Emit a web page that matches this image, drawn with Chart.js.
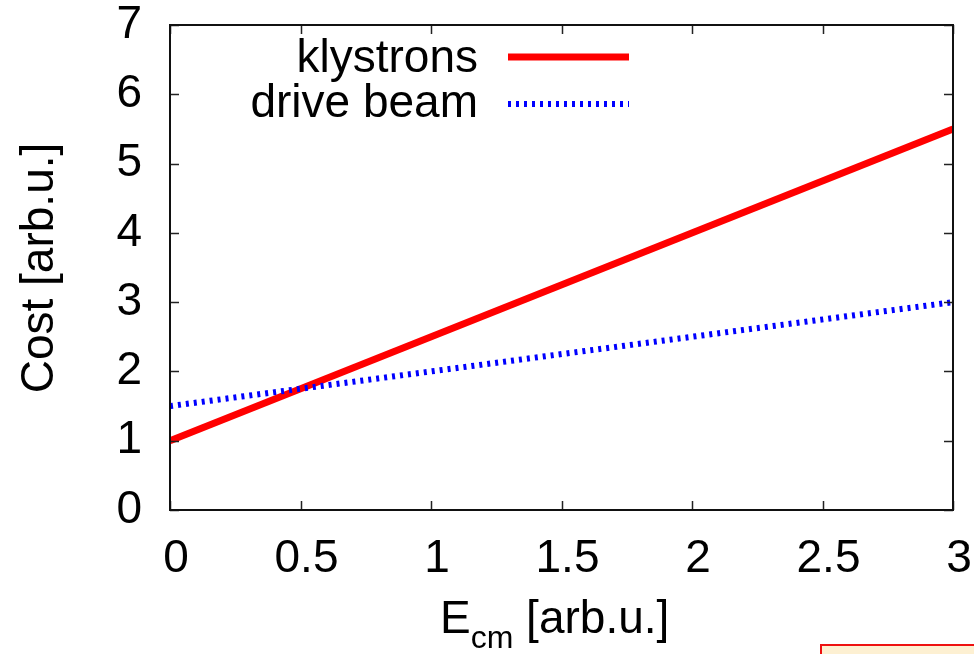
<!DOCTYPE html>
<html>
<head>
<meta charset="utf-8">
<script src="https://cdn.jsdelivr.net/npm/chart.js@4/dist/chart.umd.min.js"></script>
<style>
html,body{margin:0;padding:0;background:#fff;}
#wrap{width:974px;height:654px;position:relative;}
</style>
</head>
<body>
<div id="wrap"><canvas id="c" width="974" height="654"></canvas></div>
<script>
// ---- data ----
const seriesNames = ["klystrons", "drive beam"];
const ecm = [0, 3];
const klystronCost = [1.0, 5.5];
const driveBeamCost = [1.5, 3.0];
const xTicks = [0, 0.5, 1, 1.5, 2, 2.5, 3];
const yTicks = [0, 1, 2, 3, 4, 5, 6, 7];
const xTitleMain = "E", xTitleSub = "cm", xTitleRest = " [arb.u.]";
const yTitle = "Cost [arb.u.]";

const FONT = "'Liberation Sans', Arial, Helvetica, sans-serif";
const FS = 46;
const toPts = (xs, ys) => xs.map((x, i) => ({x: x, y: ys[i]}));

const decor = {
  id: 'decor',
  afterDraw(chart) {
    const ctx = chart.ctx;
    const a = chart.chartArea;
    const xs = chart.scales.x, ys = chart.scales.y;
    ctx.save();
    // inward ticks on all four sides
    ctx.strokeStyle = '#222';
    ctx.lineWidth = 1.5;
    const tl = 9;
    ctx.beginPath();
    xTicks.forEach(v => {
      const px = Math.round(xs.getPixelForValue(v)) + 0.5;
      ctx.moveTo(px, a.bottom); ctx.lineTo(px, a.bottom - tl);
      ctx.moveTo(px, a.top); ctx.lineTo(px, a.top + tl);
    });
    yTicks.forEach(v => {
      const py = Math.round(ys.getPixelForValue(v)) + 0.5;
      ctx.moveTo(a.left, py); ctx.lineTo(a.left + tl, py);
      ctx.moveTo(a.right, py); ctx.lineTo(a.right - tl, py);
    });
    ctx.stroke();
    // frame
    ctx.strokeStyle = '#111';
    ctx.lineWidth = 2;
    ctx.strokeRect(a.left, a.top, a.right - a.left, a.bottom - a.top);

    // legend (gnuplot style: right-aligned text, sample line to the right)
    ctx.fillStyle = '#000';
    ctx.font = FS + 'px ' + FONT;
    ctx.textAlign = 'right';
    ctx.textBaseline = 'alphabetic';
    const ds = chart.data.datasets;
    const rows = [{y: 72, ly: 57}, {y: 117, ly: 104}];
    [0, 1].forEach(i => {
      const d = ds[i];
      ctx.fillText(seriesNames[i], 478, rows[i].y);
      ctx.beginPath();
      ctx.strokeStyle = d.borderColor;
      ctx.lineWidth = d.borderWidth;
      ctx.setLineDash(d.borderDash || []);
      ctx.lineCap = 'butt';
      ctx.moveTo(508, rows[i].ly); ctx.lineTo(629, rows[i].ly);
      ctx.stroke();
      ctx.setLineDash([]);
    });

    // x title with subscript
    ctx.textAlign = 'left';
    ctx.fillStyle = '#000';
    ctx.font = FS + 'px ' + FONT;
    let x = 440;
    const base = 633;
    ctx.fillText(xTitleMain, x, base);
    x += ctx.measureText(xTitleMain).width;
    ctx.font = '32px ' + FONT;
    ctx.fillText(xTitleSub, x, base + 15);
    x += ctx.measureText(xTitleSub).width;
    ctx.font = FS + 'px ' + FONT;
    ctx.fillText(xTitleRest, x, base);

    // y title rotated
    ctx.save();
    ctx.translate(53, 268);
    ctx.rotate(-Math.PI / 2);
    ctx.textAlign = 'center';
    ctx.textBaseline = 'alphabetic';
    ctx.fillText(yTitle, 0, 0);
    ctx.restore();

    // partial box at bottom right
    ctx.fillStyle = '#fdf0d2';
    ctx.fillRect(821, 645, 160, 20);
    ctx.strokeStyle = '#ee1111';
    ctx.lineWidth = 2;
    ctx.strokeRect(821, 645, 160, 20);
    ctx.restore();
  }
};

new Chart(document.getElementById('c'), {
  type: 'scatter',
  data: {
    datasets: [
      {label: seriesNames[0], data: toPts(ecm, klystronCost), showLine: true,
       borderColor: '#ff0000', borderWidth: 7, pointRadius: 0, order: 1, clip: 0},
      {label: seriesNames[1], data: toPts(ecm, driveBeamCost), showLine: true,
       borderColor: '#0000ff', borderWidth: 6, borderDash: [3, 5], pointRadius: 0, order: 0, clip: 0}
    ]
  },
  options: {
    responsive: false,
    animation: false,
    layout: {padding: {left: 0, top: 25, right: 21, bottom: 0}},
    plugins: {legend: {display: false}, tooltip: {enabled: false}},
    scales: {
      x: {
        type: 'linear', min: 0, max: 3,
        grid: {display: false, drawTicks: false},
        border: {display: false},
        afterBuildTicks: s => { s.ticks = xTicks.map(v => ({value: v})); },
        afterFit: s => { s.height = 144; s.paddingLeft = 0; s.paddingRight = 0; },
        ticks: {font: {family: FONT, size: FS}, color: '#000', padding: 22, labelOffset: 6,
                maxRotation: 0, autoSkip: false, callback: v => String(v)}
      },
      y: {
        type: 'linear', min: 0, max: 7,
        grid: {display: false, drawTicks: false},
        border: {display: false},
        afterBuildTicks: s => { s.ticks = yTicks.map(v => ({value: v})); },
        afterFit: s => { s.width = 170; s.paddingTop = 0; s.paddingBottom = 0; },
        ticks: {font: {family: FONT, size: FS}, color: '#000', padding: 28,
                autoSkip: false, callback: v => String(v)}
      }
    }
  },
  plugins: [decor]
});
</script>
</body>
</html>
